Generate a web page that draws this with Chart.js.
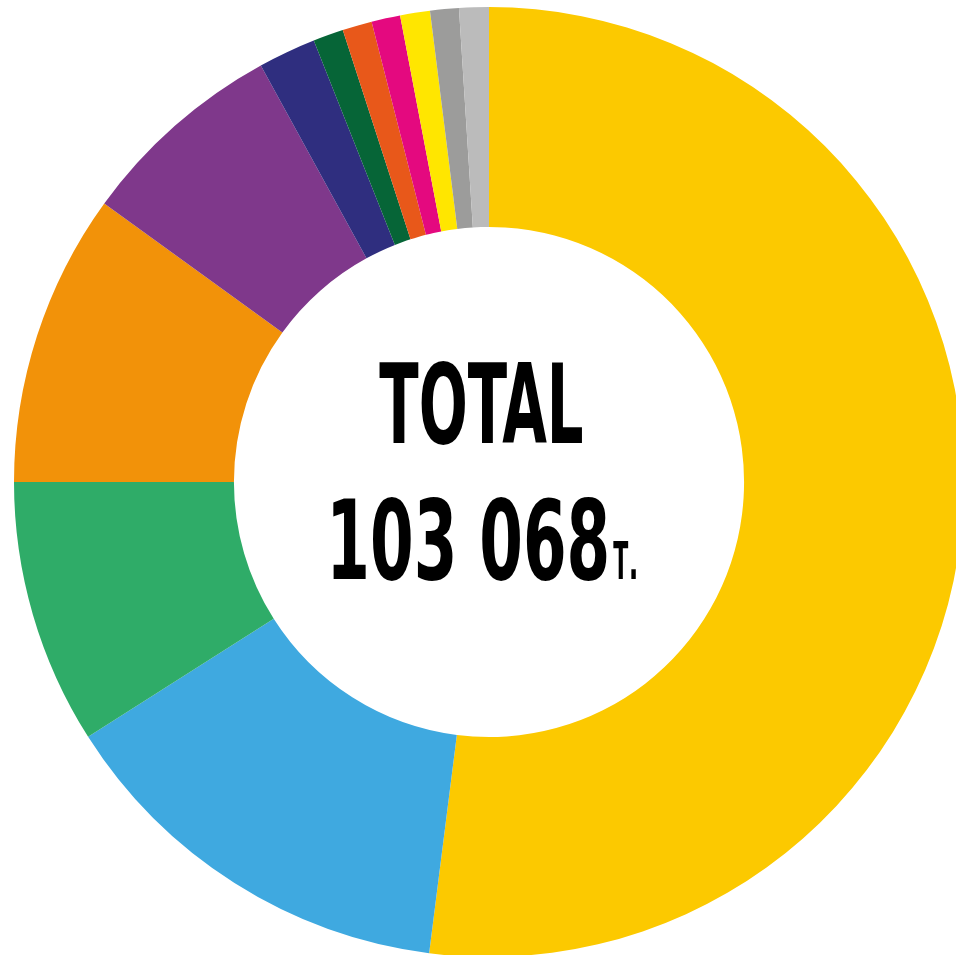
<!DOCTYPE html>
<html>
<head>
<meta charset="utf-8">
<script src="https://cdn.jsdelivr.net/npm/chart.js@4.4.1/dist/chart.umd.min.js"></script>
<style>
    html, body { margin: 0; padding: 0; background: #fff; overflow: hidden; width: 956px; height: 955px; }
    #wrap { position: absolute; left: 14px; top: 7px; width: 950px; height: 950px; }
</style>
</head>
<body>
<div id="wrap"><canvas id="donut"></canvas></div>
<script>
// Datos (toneladas), en sentido horario desde arriba
const labels = ['1', '2', '3', '4', '5', '6', '7', '8', '9', '10', '11', '12'];
const values = [53607, 14407, 9288, 10278, 7269, 2021, 1065, 1036, 1008, 1045, 1005, 1039];
const colors = ['#FCC900', '#3FA9E0', '#2FAC68', '#F29209', '#7F388B', '#2F2E7F',
                '#066537', '#E8581A', '#E4097F', '#FFE600', '#9C9C9B', '#BBBBBB'];
const titleText = 'TOTAL';
const unitText = 'T.';

// Total con separador de miles por espacio
function formatTotal(n) {
    return String(n).replace(/\B(?=(\d{3})+(?!\d))/g, ' ');
}
const total = values.reduce((a, b) => a + b, 0);

// Texto central comprimido horizontalmente (estilo condensado)
const centerText = {
    id: 'centerText',
    afterDraw(chart) {
        const ctx = chart.ctx;
        const meta = chart.getDatasetMeta(0).data[0];
        const cx = meta.x, cy = meta.y;
        const family = "'Liberation Sans Narrow', 'DejaVu Sans Condensed', 'Liberation Sans', sans-serif";
        const pieces = [
            { text: titleText, left: -109.7, right: 93.3, base: -38.7, cap: 80.6 },
            { text: formatTotal(total), left: -155.7, right: 117.7, base: 97.3, cap: 80 },
            { text: unitText.charAt(0), left: 124.3, right: 139.3, base: 97.3, cap: 37 },
            { text: unitText.slice(1), left: 142, right: 147, base: 97.3, cap: 37 }
        ];
        ctx.save();
        ctx.fillStyle = '#000';
        ctx.textBaseline = 'alphabetic';
        ctx.textAlign = 'left';
        pieces.forEach(p => {
            ctx.font = 'bold 100px ' + family;
            const asc = ctx.measureText('H').actualBoundingBoxAscent;
            const size = 100 * p.cap / asc;
            ctx.font = 'bold ' + size + 'px ' + family;
            const m = ctx.measureText(p.text);
            const w = m.actualBoundingBoxLeft + m.actualBoundingBoxRight;
            const sx = (p.right - p.left) / w;
            ctx.save();
            ctx.translate(cx + p.left, cy + p.base);
            ctx.scale(sx, 1);
            ctx.fillText(p.text, m.actualBoundingBoxLeft, 0);
            ctx.restore();
        });
        ctx.restore();
    }
};

new Chart(document.getElementById('donut').getContext('2d'), {
    type: 'doughnut',
    data: {
        labels: labels,
        datasets: [{
            data: values,
            backgroundColor: colors,
            borderWidth: 0
        }]
    },
    options: {
        responsive: true,
        maintainAspectRatio: false,
        animation: false,
        cutout: '53.7%',
        layout: { padding: 0 },
        plugins: {
            legend: { display: false },
            tooltip: { enabled: false }
        }
    },
    plugins: [centerText]
});
</script>
</body>
</html>
